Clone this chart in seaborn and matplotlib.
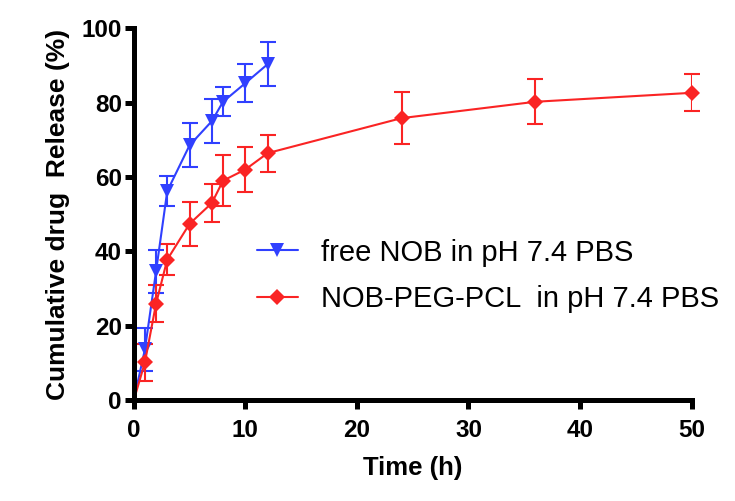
import numpy as np
import pandas as pd
import matplotlib
matplotlib.use("Agg")
import matplotlib.pyplot as plt
import seaborn as sns

# --- Data ---
free_time = [0, 1, 2, 3, 5, 7, 8, 10, 12]
free_release = [0, 13.7, 34.7, 56.2, 68.5, 75.0, 80.2, 85.2, 90.3]
free_err = [4.3, 5.8, 5.8, 4.0, 5.9, 5.9, 3.9, 5.1, 6.0]

mic_time = [0, 1, 2, 3, 5, 7, 8, 10, 12, 24, 36, 50]
mic_release = [0, 10.2, 26.0, 37.8, 47.4, 53.0, 59.0, 62.0, 66.4, 75.8, 80.2, 82.6]
mic_err = [3.7, 5.0, 5.0, 4.2, 5.9, 5.0, 6.8, 6.0, 5.0, 7.0, 6.0, 5.0]

label_free = "free NOB in pH 7.4 PBS"
label_mic = "NOB-PEG-PCL  in pH 7.4 PBS"

BLUE = "#3040ff"
RED = "#fa2424"

df = pd.concat([
    pd.DataFrame({"time": free_time, "release": free_release, "group": label_free}),
    pd.DataFrame({"time": mic_time, "release": mic_release, "group": label_mic}),
], ignore_index=True)

sns.set_theme(style="ticks")
plt.rcParams["font.family"] = ["Liberation Sans", "DejaVu Sans"]
plt.rcParams.update({
    "text.color": "black", "axes.labelcolor": "black", "axes.edgecolor": "black",
    "xtick.color": "black", "ytick.color": "black",
})

fig = plt.figure(figsize=(7.35, 5.01), dpi=100)
ax = fig.add_axes([0.182, 0.201, 0.759, 0.743])

ax.errorbar(free_time, free_release, yerr=free_err, fmt="none",
            ecolor=BLUE, elinewidth=1.5, capsize=5.5, capthick=1.5)
ax.errorbar(mic_time, mic_release, yerr=mic_err, fmt="none",
            ecolor=RED, elinewidth=1.5, capsize=5.5, capthick=1.5)

sns.lineplot(data=df, x="time", y="release", hue="group", style="group",
             palette={label_free: BLUE, label_mic: RED},
             markers={label_free: "v", label_mic: "D"}, dashes=False,
             markeredgewidth=0, linewidth=1.5, ax=ax)

# marker sizes; the point at t=0 hides behind the axes corner in the original
for line in ax.get_lines():
    if line.get_marker() == "v":
        line.set_markersize(10)
    elif line.get_marker() == "D":
        line.set_markersize(8)
    n = len(line.get_xdata())
    if n > 1:
        line.set_markevery(list(range(1, n)))

ax.set_xlim(0, 50)
ax.set_ylim(0, 100)
ax.set_xticks([0, 10, 20, 30, 40, 50])
ax.set_yticks([0, 20, 40, 60, 80, 100])
for s in ["top", "right"]:
    ax.spines[s].set_visible(False)
for s in ["left", "bottom"]:
    ax.spines[s].set_linewidth(3.6)
    ax.spines[s].set_color("black")
ax.tick_params(axis="both", width=3.6, length=6.5, labelsize=17.5, color="black",
               labelcolor="black")
ax.tick_params(axis="x", pad=7)
ax.tick_params(axis="y", pad=2)
for lab in ax.get_xticklabels() + ax.get_yticklabels():
    lab.set_fontweight("bold")

ax.set_xlabel("Time (h)", fontsize=18.5, fontweight="bold", labelpad=10, color="black")
ax.set_ylabel("Cumulative drug  Release (%)", fontsize=19, fontweight="bold",
              labelpad=8, color="black")

handles, labels = ax.get_legend_handles_labels()
leg = ax.legend(handles, labels, title=None, frameon=False, fontsize=21,
                loc="center left", bbox_to_anchor=(257 / 735, 1 - 276 / 501),
                bbox_transform=fig.transFigure, borderaxespad=0, borderpad=0,
                handlelength=1.4, handletextpad=0.8, labelspacing=0.65)
for t in leg.get_texts():
    t.set_color("black")

for line in ax.get_lines():
    line.set_clip_on(False)

fig.savefig("out.png", dpi=100)
